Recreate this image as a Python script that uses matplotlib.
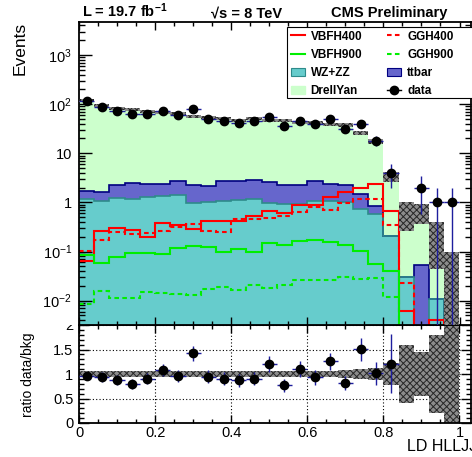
import numpy as np
import matplotlib

matplotlib.use("Agg")
from matplotlib import pyplot as plt
from matplotlib.lines import Line2D
from matplotlib.patches import Patch, Rectangle
from matplotlib.ticker import FixedLocator, FuncFormatter, LogLocator, MultipleLocator, NullFormatter

plt.rcParams["font.family"] = ["Liberation Sans", "DejaVu Sans"]
plt.rcParams["mathtext.fontset"] = "custom"
plt.rcParams["mathtext.rm"] = "Liberation Sans"
plt.rcParams["mathtext.bf"] = "Liberation Sans:bold"
plt.rcParams["mathtext.it"] = "Liberation Sans:italic"
plt.rcParams["hatch.linewidth"] = 0.7

# 25 bins of the LD discriminant, 0 -> 1
bin_lo, bin_hi, n_bins = 0.0, 1.0, 25

drell_yan = np.array([117.3, 91.4, 80.7, 74.6, 68.7, 65.7, 61.3, 52.7, 50.8, 47.3, 44.3, 47.2, 43.4,
                      44.7, 39.7, 40.3, 36.6, 35.8, 24.5, 16.9, 3.1, 0.62, 0.6, 0.21, 0.05])
ttbar = np.array([0.56, 0.55, 1.05, 1.29, 1.02, 0.98, 1.34, 1.27, 1.17, 1.65, 1.60, 1.64, 1.62,
                  1.37, 1.37, 1.63, 1.32, 1.20, 0.75, 0.28, 0.0, 0.0, 0.053, 0.0, 0.0])
wz_zz = np.array([1.17, 1.08, 1.21, 1.15, 1.31, 1.35, 1.39, 0.99, 1.02, 1.08, 1.13, 1.17, 0.96,
                  0.93, 0.93, 1.05, 1.05, 1.02, 0.73, 0.58, 0.21, 0.03, 0.0, 0.011, 0.0])
mc_rel_err = np.array([0.07] * 17 + [0.08, 0.10, 0.12, 0.23, 0.6, 0.45, 0.8, 1.0])

data = np.array([114, 87, 72, 62, 64, 74, 61, 78, 50, 45, 41, 45, 55, 36, 46, 40, 49, 31, 39, 18,
                 4, 0, 2, 1, 1])

vbfh400 = np.array([0.065, 0.26, 0.30, 0.27, 0.20, 0.39, 0.345, 0.286, 0.41, 0.41, 0.42, 0.53, 0.68,
                    0.60, 0.88, 0.88, 1.26, 1.65, 1.93, 2.37, 0.68, 0.0062, 0.0, 0.004, 0.0])
ggh400 = np.array([0.103, 0.168, 0.25, 0.23, 0.237, 0.264, 0.31, 0.36, 0.264, 0.25, 0.47, 0.46, 0.48,
                   0.52, 0.65, 0.79, 0.70, 0.97, 1.2, 1.2, 0.34, 0.023, 0.0, 0.0, 0.0])
vbfh900 = np.array([0.086, 0.058, 0.078, 0.094, 0.095, 0.091, 0.117, 0.132, 0.125, 0.097, 0.115, 0.10,
                    0.148, 0.135, 0.165, 0.17, 0.158, 0.135, 0.103, 0.057, 0.04, 0.0, 0.0, 0.0, 0.0])
ggh900 = np.array([0.0087, 0.0155, 0.0115, 0.0112, 0.015, 0.0142, 0.014, 0.0129, 0.017, 0.0187, 0.0168,
                   0.0213, 0.018, 0.021, 0.026, 0.026, 0.026, 0.030, 0.028, 0.029, 0.012, 0.0, 0.0, 0.0, 0.0])

edges = np.linspace(bin_lo, bin_hi, n_bins + 1)
centers = 0.5 * (edges[:-1] + edges[1:])
width = edges[1] - edges[0]
floor = 1e-6

stack_wz = wz_zz
stack_tt = wz_zz + ttbar
stack_all = stack_tt + drell_yan
mc_err = stack_all * mc_rel_err

W, H = 472, 457
fig = plt.figure(figsize=(W / 100, H / 100), dpi=100)
axr = fig.add_axes([79 / W, (H - 423) / H, 392 / W, 98 / H], zorder=0)
ax = fig.add_axes([79 / W, (H - 325) / H, 392 / W, 303 / H], zorder=1)
xmax = 392 / 380.5

# the upper pad hides the top of the ratio labels
fig.add_artist(Rectangle((0, (H - 325) / H), 79 / W, 325 / H, transform=fig.transFigure,
                         facecolor="white", edgecolor="none", zorder=0.5))

# main panel: stacked backgrounds
ax.stairs(np.maximum(stack_all, floor), edges, baseline=floor, fill=True, color="#ccffcc", zorder=1)
ax.stairs(np.maximum(stack_tt, floor), edges, baseline=floor, fill=True, color="#6666cc", zorder=1.1)
ax.stairs(np.maximum(stack_wz, floor), edges, baseline=floor, fill=True, color="#66cccc", zorder=1.2)
ax.stairs(np.maximum(stack_tt, floor), edges, baseline=None, color="#000080", lw=1.2, zorder=1.3)
ax.stairs(np.maximum(stack_wz, floor), edges, baseline=None, color="#2e8b8b", lw=1.2, zorder=1.4)

# signals
dash = (0, (2.2, 1.6))
ax.stairs(np.maximum(vbfh400, floor), edges, baseline=None, color="#ff0000", lw=1.5, zorder=2)
ax.stairs(np.maximum(ggh400, floor), edges, baseline=None, color="#ff0000", lw=1.5, ls=dash, zorder=2)
ax.stairs(np.maximum(vbfh900, floor), edges, baseline=None, color="#00ee00", lw=1.5, zorder=2)
ax.stairs(np.maximum(ggh900, floor), edges, baseline=None, color="#00ee00", lw=1.5, ls=dash, zorder=2)

# MC stat band
band_style = dict(facecolor="#8c8c8c", edgecolor="#262626", hatch="xxxxx", linewidth=0)
ax.bar(centers, 2 * mc_err, bottom=np.maximum(stack_all - mc_err, floor), width=width, align="center",
       zorder=3, **band_style)

has_data = data > 0
ax.errorbar(centers[has_data], data[has_data], xerr=width / 2, yerr=np.sqrt(data[has_data]), fmt="o",
            ms=6, mfc="black", mec="black", ecolor="#1e1e9e", elinewidth=1, capsize=0, zorder=4)

ax.set_yscale("log")
ax.set_xlim(0, xmax)
ax.set_ylim(3.2e-3, 4.7e3)
ax.yaxis.set_major_locator(LogLocator(base=10, numticks=20))
ax.yaxis.set_minor_locator(LogLocator(base=10, subs=np.arange(2, 10), numticks=20))
ax.yaxis.set_minor_formatter(NullFormatter())


def log_label(v, _pos):
    k = int(round(np.log10(v)))
    if k == 0:
        return "1"
    if k == 1:
        return "10"
    return r"$10^{%d}$" % k


ax.yaxis.set_major_formatter(FuncFormatter(log_label))
ax.xaxis.set_major_locator(MultipleLocator(0.2))
ax.xaxis.set_minor_locator(MultipleLocator(0.05))
ax.tick_params(axis="x", labelbottom=False)
ax.tick_params(which="both", direction="in", top=True, right=True, width=1, labelsize=10.5, pad=5)
ax.tick_params(axis="y", which="major", length=9)
ax.tick_params(axis="y", which="minor", length=4.5)
ax.tick_params(axis="x", which="major", length=6)
ax.tick_params(axis="x", which="minor", length=3)
for s in ax.spines.values():
    s.set_linewidth(1.3)

# ratio panel
ratio = data / stack_all
ratio_err = np.sqrt(data) / stack_all
show = has_data & (ratio <= 2)
axr.bar(centers, 2 * mc_rel_err, bottom=1 - mc_rel_err, width=width, align="center", zorder=2,
        **band_style)
axr.errorbar(centers[show], ratio[show], xerr=width / 2, yerr=ratio_err[show], fmt="o",
             ms=6, mfc="black", mec="black", ecolor="#1e1e9e", elinewidth=1, capsize=0, zorder=4)
axr.set_xlim(0, xmax)
axr.set_ylim(0, 2)
axr.yaxis.set_major_locator(MultipleLocator(0.5))
axr.yaxis.set_minor_locator(MultipleLocator(0.1))
axr.xaxis.set_major_locator(FixedLocator([0, 0.2, 0.4, 0.6, 0.8, 1.0]))
axr.xaxis.set_minor_locator(MultipleLocator(0.05))
axr.xaxis.set_major_formatter(FuncFormatter(lambda v, _p: "%g" % round(v, 2)))
axr.yaxis.set_major_formatter(FuncFormatter(lambda v, _p: "%g" % v))
axr.grid(True, which="major", color="black", ls=(0, (1, 2)), lw=0.8)
axr.set_axisbelow(True)
axr.tick_params(which="both", direction="in", top=True, right=True, width=1, labelsize=10.5)
axr.tick_params(axis="y", which="major", length=7, pad=4)
axr.tick_params(axis="y", which="minor", length=3.5)
axr.tick_params(axis="x", which="major", length=6, pad=2)
axr.tick_params(axis="x", which="minor", length=3)
for s in axr.spines.values():
    s.set_linewidth(1.3)

# texts
fig.text(20 / W, 1 - 22 / H, "Events", rotation=90, ha="center", va="top", fontsize=12.5, zorder=3)
fig.text(28 / W, 1 - 375 / H, "ratio data/bkg", rotation=90, ha="center", va="center", fontsize=10)
fig.text(407 / W, 1 - 451 / H, "LD HLLJJ", ha="left", va="baseline", fontsize=11.5)
fig.text(82 / W, 1 - 17 / H, r"L = 19.7 fb$^{\mathbf{-1}}$", ha="left", va="baseline",
         fontsize=10.5, weight="bold", zorder=3)
fig.text(211 / W, 1 - 17 / H, "\u221as = 8 TeV", ha="left", va="baseline", fontsize=10.5, weight="bold",
         zorder=3)
fig.text(331 / W, 1 - 17 / H, "CMS Preliminary", ha="left", va="baseline", fontsize=10.5, weight="bold",
         zorder=3)

# legend: box runs off the right edge like the original pad
fig.add_artist(Rectangle((287 / W, 1 - 98 / H), (W + 5 - 287) / W, 71 / H, transform=fig.transFigure,
                         facecolor="white", edgecolor="black", lw=0.8, zorder=4))
handles = [
    Line2D([], [], color="#ff0000", lw=1.5),
    Line2D([], [], color="#00ee00", lw=1.5),
    Patch(facecolor="#66cccc", edgecolor="#2e8b8b", lw=0.8),
    Patch(facecolor="#ccffcc", edgecolor="#ccffcc"),
    Line2D([], [], color="#ff0000", lw=1.5, ls=dash),
    Line2D([], [], color="#00ee00", lw=1.5, ls=dash),
    Patch(facecolor="#6666cc", edgecolor="#000080", lw=0.8),
    Line2D([], [], color="black", marker="o", ms=6, lw=1),
]
labels = ["VBFH400", "VBFH900", "WZ+ZZ", "DrellYan", "GGH400", "GGH900", "ttbar", "data"]
leg = fig.legend(handles, labels, ncol=2, loc="upper left", bbox_to_anchor=(287 / W, 1 - 27 / H),
                 frameon=False, prop={"weight": "bold", "size": 8.5}, handlelength=1.2,
                 handletextpad=0.5, columnspacing=2.1, labelspacing=0.52, borderpad=0.3,
                 borderaxespad=0)
leg.set_zorder(5)

fig.savefig("out.png", dpi=100)
